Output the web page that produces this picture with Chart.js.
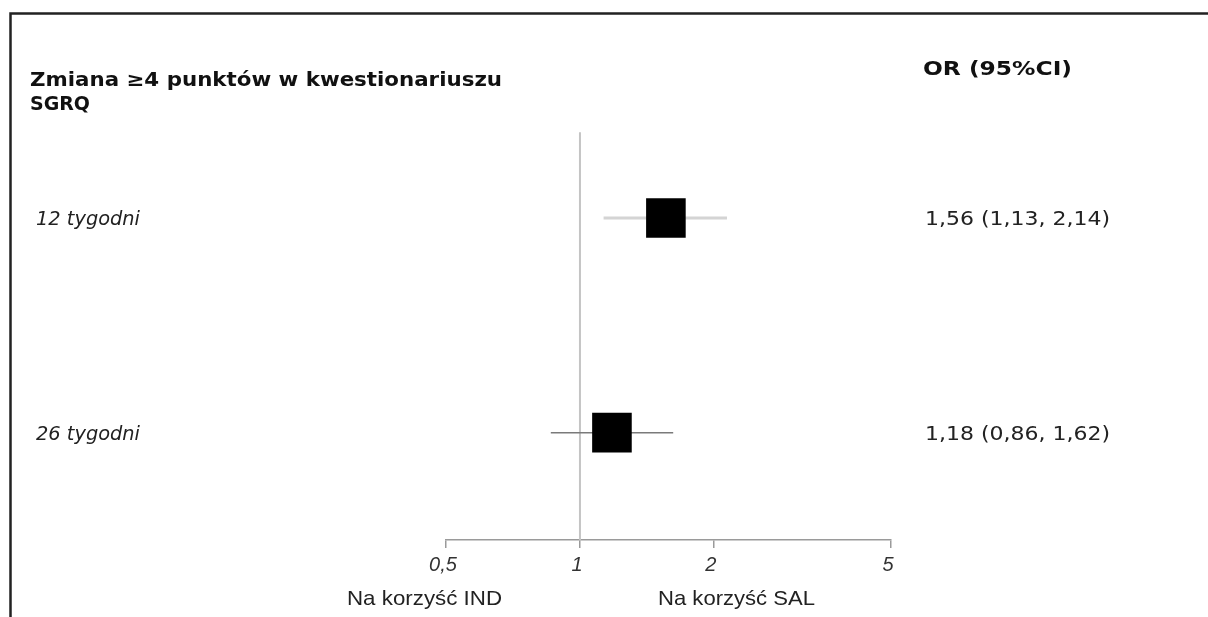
<!DOCTYPE html>
<html>
<head>
<meta charset="utf-8">
<script src="https://cdn.jsdelivr.net/npm/chart.js@4.4.1/dist/chart.umd.min.js"></script>
<style>
  html, body { margin: 0; padding: 0; background: #fff; }
  #wrap { width: 1208px; height: 617px; position: relative; }
</style>
</head>
<body>
<div id="wrap"><canvas id="forest"></canvas></div>
<script>
// dane z wykresu
const groups = ['12 tygodni', '26 tygodni'];
const rows = [1, 2];
const orValues = [1.56, 1.18];
const ciLow = [1.13, 0.86];
const ciHigh = [2.14, 1.62];
const xTicks = [0.5, 1, 2, 5];
const xTickLabels = ['0,5', '1', '2', '5'];

const fmt = v => v.toFixed(2).replace('.', ',');

// tekst rozciagniety do zadanej szerokosci (oryginal jest poszerzony)
function stretchText(ctx, text, x, y, font, width, color) {
  ctx.save();
  ctx.font = font;
  ctx.fillStyle = color || '#111';
  ctx.textBaseline = 'alphabetic';
  ctx.textAlign = 'left';
  const w = ctx.measureText(text).width;
  ctx.translate(x, y);
  ctx.scale(width / w, 1);
  ctx.fillText(text, 0, 0);
  ctx.restore();
}

const textPlugin = {
  id: 'forestText',
  afterDraw(chart) {
    const ctx = chart.ctx;
    const y = chart.scales.y;

    // ramka
    ctx.save();
    ctx.strokeStyle = '#222';
    ctx.lineWidth = 2.5;
    ctx.beginPath();
    ctx.moveTo(10.5, 617);
    ctx.lineTo(10.5, 13.5);
    ctx.lineTo(1208, 13.5);
    ctx.stroke();
    ctx.restore();

    stretchText(ctx, 'Zmiana \u22654 punktów w kwestionariuszu', 30, 86, 'bold 19.5px "DejaVu Sans"', 472);
    stretchText(ctx, 'SGRQ', 30, 110, 'bold 19.5px "DejaVu Sans"', 60);
    stretchText(ctx, 'OR (95%CI)', 923, 75, 'bold 19.5px "DejaVu Sans"', 149);

    rows.forEach((r, i) => {
      const py = y.getPixelForValue(r);
      stretchText(ctx, groups[i], 36, py + 7, 'oblique 19.5px "DejaVu Sans"', 104, '#222');
      const txt = fmt(orValues[i]) + ' (' + fmt(ciLow[i]) + ', ' + fmt(ciHigh[i]) + ')';
      stretchText(ctx, txt, 925, py + 7, '19.5px "DejaVu Sans"', 185, '#222');
    });

    stretchText(ctx, 'Na korzyść IND', 347, 605, '21px "Liberation Sans"', 155, '#222');
    stretchText(ctx, 'Na korzyść SAL', 658, 605, '21px "Liberation Sans"', 157, '#222');
  }
};

const ciStyles = [
  { color: '#d4d4d4', width: 3 },
  { color: '#7a7a7a', width: 1.5 }
];

const datasets = [];
// punkty OR
datasets.push({
  label: 'OR',
  data: rows.map((r, i) => ({ x: orValues[i], y: r })),
  pointStyle: 'rect',
  pointRadius: 28,
  backgroundColor: '#000',
  borderColor: '#000',
  borderWidth: 0,
  showLine: false,
  order: 0
});
// przedzialy ufnosci
rows.forEach((r, i) => {
  datasets.push({
    label: 'CI ' + groups[i],
    data: [{ x: ciLow[i], y: r }, { x: ciHigh[i], y: r }],
    showLine: true,
    pointRadius: 0,
    borderColor: ciStyles[i].color,
    borderWidth: ciStyles[i].width,
    order: 1
  });
});
// linia OR = 1
datasets.push({
  label: 'ref',
  data: [{ x: 1, y: 0.6 }, { x: 1, y: 2.5 }],
  showLine: true,
  pointRadius: 0,
  borderColor: '#c4c4c4',
  borderWidth: 2,
  order: 2
});

new Chart(document.getElementById('forest'), {
  type: 'scatter',
  data: { datasets },
  options: {
    responsive: true,
    maintainAspectRatio: false,
    animation: false,
    layout: { padding: { left: 446, right: 317, top: 130, bottom: 0 } },
    plugins: { legend: { display: false }, tooltip: { enabled: false } },
    scales: {
      x: {
        type: 'logarithmic',
        min: 0.5,
        max: 5,
        afterBuildTicks: scale => { scale.ticks = xTicks.map(v => ({ value: v })); },
        afterFit: scale => { scale.height = 77; },
        border: { display: true, color: '#9a9a9a', width: 1.5 },
        grid: { drawOnChartArea: false, drawTicks: true, tickLength: 8, color: '#9a9a9a', lineWidth: 1.5 },
        ticks: {
          autoSkip: false,
          maxRotation: 0,
          padding: 5,
          labelOffset: -3,
          color: '#333',
          font: { family: '"Liberation Sans"', size: 20, style: 'italic' },
          callback: (v, i) => xTickLabels[i]
        }
      },
      y: {
        type: 'linear',
        reverse: true,
        min: 0.59,
        max: 2.5,
        display: false
      }
    }
  },
  plugins: [textPlugin]
});
</script>
</body>
</html>
